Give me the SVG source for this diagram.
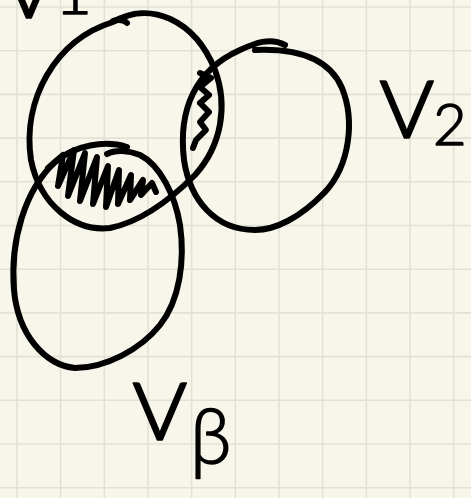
<svg xmlns="http://www.w3.org/2000/svg" width="471" height="498" viewBox="0 0 471 498">
<style>
.grid{stroke:#e3e1d5;stroke-width:1.6}
.ink{fill:none;stroke:#000;stroke-width:6;stroke-linecap:round;stroke-linejoin:round}
.hatch{fill:none;stroke:#000;stroke-width:6;stroke-linecap:round;stroke-linejoin:round}
.lbl{font-family:Lato,"Liberation Sans",Arial,sans-serif;font-weight:300;fill:#000;stroke:#000;stroke-width:1.5;stroke-linejoin:round}
</style>
<rect width="471" height="498" fill="#f8f6ea"/>
<g id="grid">
<path class="grid" d="M16.9 0V498M60.6 0V498M104.3 0V498M148 0V498M191.6 0V498M235.3 0V498M279 0V498M322.6 0V498M366.3 0V498M410 0V498M453.6 0V498"/>
<path class="grid" d="M0 7H471M0 50.7H471M0 94.4H471M0 138.1H471M0 181.8H471M0 225.5H471M0 269.2H471M0 312.9H471M0 356.6H471M0 400.3H471M0 444H471M0 487.7H471"/>
</g>
<g id="set-v1">
<path class="ink" d="M113,22 C150,0 195,20 215,70 C228,105 222,145 195,175 C170,200 140,222 110,228 C75,232 40,205 31,160 C22,100 55,40 113,22"/>
<path class="ink" d="M113,21 Q122,18 127,23"/>
<text class="lbl" x="0" y="18" font-size="115">v</text>
<text class="lbl" x="55" y="14" font-size="64">1</text>
</g>
<g id="set-v2">
<path class="ink" d="M255,50 C300,48 330,60 342,88 C355,120 350,165 325,192 C300,218 275,230 255,230 C215,230 190,200 184,160 C178,110 195,70 240,50 C255,43 270,37 285,45"/>
<text class="lbl" x="378" y="138" font-size="115">v</text>
<text class="lbl" x="433" y="145" font-size="58">2</text>
</g>
<g id="set-v3">
<path class="ink" d="M127,147 C105,140 75,145 55,162 C25,190 10,240 14,290 C18,335 45,365 75,368 C105,368 140,350 160,325 C180,300 185,260 180,225 C175,195 160,165 140,155 C128,150 115,150 107,154"/>
<text class="lbl" x="131" y="440" font-size="115">v</text>
<text class="lbl" x="190" y="464" font-size="76">β</text>
</g>
<g id="shading">
<path class="hatch" d="M48,168 L63,155 L58,186 L74,150 L68,196 L85,153 L80,201 L97,157 L93,204 L108,166 L106,207 L119,170 L118,204 L131,175 L130,200 L143,180 L141,195 L152,183 L156,192"/>
<path class="ink" d="M200,73 L211,78 L200,87 L209,95 L200,103 L209,112 L200,122 L206,130 L196,140 L193,148"/>
</g>
</svg>
